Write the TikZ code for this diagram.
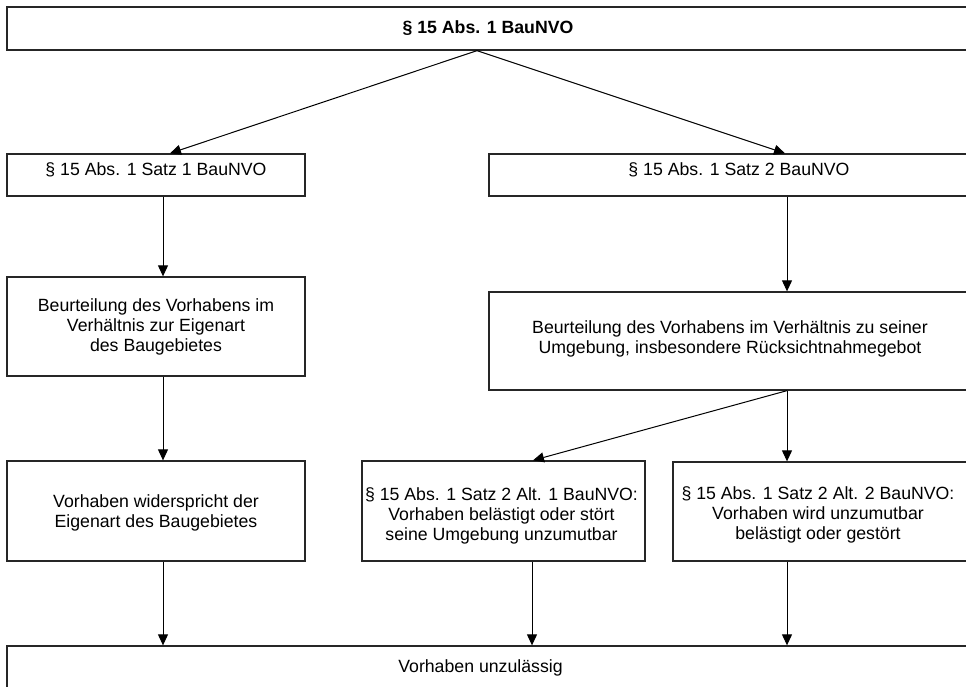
\documentclass[tikz,border=0pt]{standalone}
\usepackage{fontspec}
\setmainfont{Liberation Sans}
\usetikzlibrary{arrows.meta}
\begin{document}
\begin{tikzpicture}[x=1pt,y=-1pt,
  box/.style={draw=black!85, line width=1.3pt, rectangle, inner sep=0pt},
  txt/.style={align=center, font=\fontsize{17.7}{20.4}\selectfont, inner sep=0pt},
  arr/.style={draw=black, line width=1pt, -{Triangle[length=11pt,width=10pt]}}]
\useasboundingbox (0,0) rectangle (966,687);
\clip (0,0) rectangle (966,687);
% boxes
\node[box, minimum width=973pt, minimum height=43pt] (top) at (493.5,28.5) {};
\node[box, minimum width=298pt, minimum height=42pt] (b1) at (156,175) {};
\node[box, minimum width=491pt, minimum height=42pt] (r1) at (734.5,175) {};
\node[box, minimum width=298pt, minimum height=99pt] (b2) at (156,326.5) {};
\node[box, minimum width=491pt, minimum height=98pt] (r2) at (734.5,341) {};
\node[box, minimum width=298pt, minimum height=100pt] (b3) at (156,511) {};
\node[box, minimum width=283pt, minimum height=100pt] (m3) at (503.5,511) {};
\node[box, minimum width=307pt, minimum height=99pt] (r3) at (826.5,511.5) {};
\node[box, minimum width=973pt, minimum height=74pt] (bot) at (493.5,683) {};
% texts
\node[txt, font=\fontsize{17.7}{20.4}\selectfont\bfseries] (ttop) at (488,28.5) {§ 15 Abs. 1 BauNVO};
\node[txt] (tb1) at (156,170) {§ 15 Abs. 1 Satz 1 BauNVO};
\node[txt] (tr1) at (739,170) {§ 15 Abs. 1 Satz 2 BauNVO};
\node[txt] (tb2) at (156,327) {Beurteilung des Vorhabens im\\Verhältnis zur Eigenart\\des Baugebietes};
\node[txt] (tr2) at (730,339) {Beurteilung des Vorhabens im Verhältnis zu seiner\\Umgebung, insbesondere Rücksichtnahmegebot};
\node[txt] (tb3) at (156,513) {Vorhaben widerspricht der\\Eigenart des Baugebietes};
\node[txt] (tm3) at (501.5,516) {§ 15 Abs. 1 Satz 2 Alt. 1 BauNVO:\\Vorhaben belästigt oder stört\\seine Umgebung unzumutbar};
\node[txt] (tr3) at (818,515) {§ 15 Abs. 1 Satz 2 Alt. 2 BauNVO:\\Vorhaben wird unzumutbar\\belästigt oder gestört};
\node[txt] (tbot) at (480.5,668) {Vorhaben unzulässig};
% connectors
\draw[arr] ([xshift=-16.5pt]top.south) -- ([xshift=14pt]b1.north);
\draw[arr] ([xshift=-16.5pt]top.south) -- ([xshift=50.5pt]r1.north);
\draw[arr] ([xshift=7pt]b1.south) -- ([xshift=7pt]b2.north);
\draw[arr] ([xshift=7pt]b2.south) -- ([xshift=7pt]b3.north);
\draw[arr] ([xshift=7pt]b3.south) -- ([xshift=-330.5pt]bot.north);
\draw[arr] ([xshift=52.5pt]r1.south) -- ([xshift=52.5pt]r2.north);
\draw[arr] ([xshift=52.5pt]r2.south) -- ([xshift=29.5pt]m3.north);
\draw[arr] ([xshift=52.5pt]r2.south) -- ([xshift=-39.5pt]r3.north);
\draw[arr] ([xshift=28.5pt]m3.south) -- ([xshift=38.5pt]bot.north);
\draw[arr] ([xshift=-39.5pt]r3.south) -- ([xshift=293.5pt]bot.north);
\end{tikzpicture}
\end{document}
